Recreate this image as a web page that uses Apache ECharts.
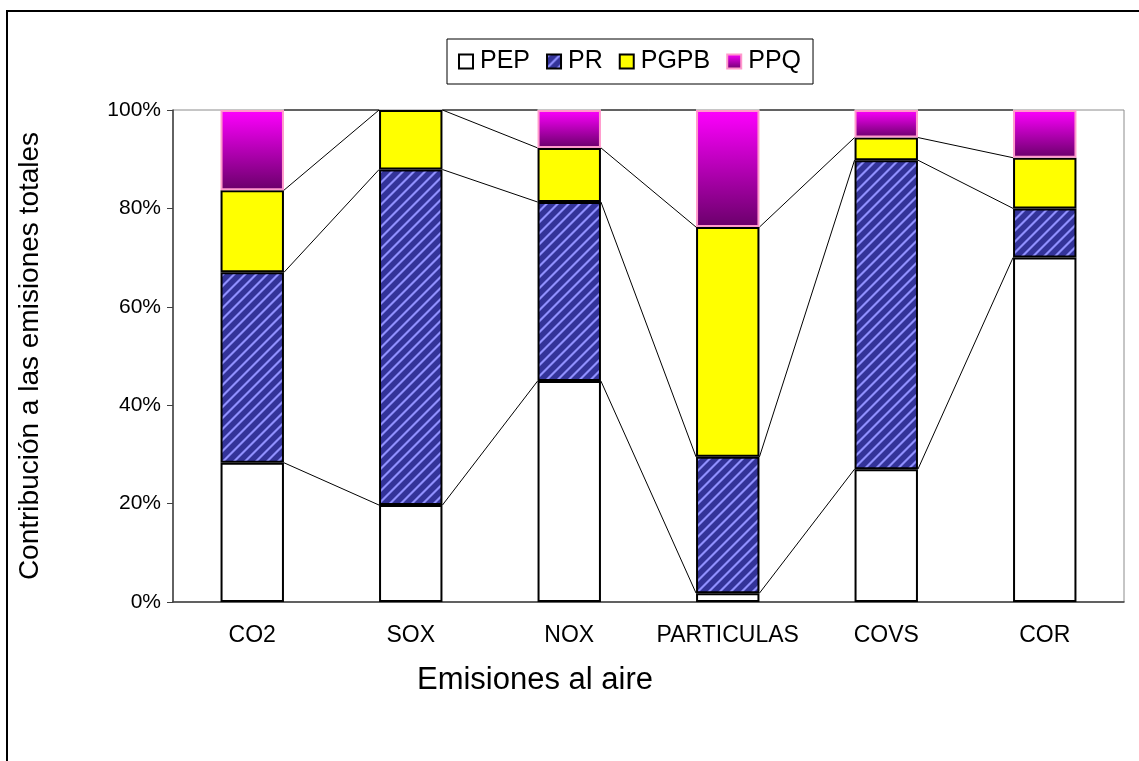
<!DOCTYPE html>
<html>
<head>
<meta charset="utf-8">
<title>Emisiones al aire</title>
<script src="https://cdn.jsdelivr.net/npm/echarts@6/dist/echarts.min.js"></script>
<style>
  html, body { margin: 0; padding: 0; background: #fff; }
  #chart { width: 1139px; height: 761px; }
</style>
</head>
<body>
<div id="chart"></div>
<script>
  // datos (% de contribucion)
  var categorias = ['CO2', 'SOX', 'NOX', 'PARTICULAS', 'COVS', 'COR'];
  var pep  = [28.3, 19.7, 44.9, 1.8, 27.0, 70.0];
  var pr   = [38.7, 68.2, 36.4, 27.7, 62.8, 10.0];
  var pgpb = [16.7, 12.1, 11.0, 46.7, 4.6, 10.3];
  var ppq  = [16.3, 0, 7.7, 23.8, 5.6, 9.7];
  var yTicks = [0, 20, 40, 60, 80, 100];

  var FONT = '"Liberation Sans", Arial, sans-serif';

  // patron rayado para PR
  function stripes() {
    var c = document.createElement('canvas');
    var p = 11;
    c.width = p; c.height = p;
    var ctx = c.getContext('2d');
    var img = ctx.createImageData(p, p);
    for (var y = 0; y < p; y++) {
      for (var x = 0; x < p; x++) {
        var d = (x + y) % p;
        var t = (d == 1 || d == 2) ? 1 : (d == 0 || d == 3 ? 0.5 : 0);
        var i = (y * p + x) * 4;
        img.data[i]   = Math.round(0x33 + (0x90 - 0x33) * t);
        img.data[i+1] = Math.round(0x33 + (0x90 - 0x33) * t);
        img.data[i+2] = Math.round(0x99 + (0xff - 0x99) * t);
        img.data[i+3] = 255;
      }
    }
    ctx.putImageData(img, 0, 0);
    return c;
  }

  // acumulados para las lineas de series
  var cum = [];
  for (var i = 0; i < categorias.length; i++) {
    var a = pep[i], b = a + pr[i], c = b + pgpb[i], d = c + ppq[i];
    cum.push([a, b, c, d]);
  }
  var lineData = [];
  for (var i = 0; i < categorias.length - 1; i++) {
    lineData.push([i].concat(cum[i], cum[i + 1]));
  }

  var chart = echarts.init(document.getElementById('chart'));
  var option = {
    animation: false,
    backgroundColor: '#fff',
    textStyle: { fontFamily: FONT },
    graphic: [
      { type: 'rect', shape: { x: 7, y: 11, width: 1300, height: 900 },
        style: { fill: 'none', stroke: '#000', lineWidth: 2 }, z: 100 },
      { type: 'text', x: 30, y: 356, rotation: Math.PI / 2,
        style: { text: 'Contribución a las emisiones totales', font: '28px ' + FONT,
                 fill: '#000', textAlign: 'center', textVerticalAlign: 'middle' } },
      { type: 'text', x: 535, y: 680,
        style: { text: 'Emisiones al aire', font: '31px ' + FONT,
                 fill: '#000', textAlign: 'center', textVerticalAlign: 'middle' } }
    ],
    legend: {
      data: ['PEP', 'PR', 'PGPB', 'PPQ'],
      left: 447,
      top: 39,
      padding: [10, 12, 10, 11],
      borderColor: '#000',
      borderWidth: 1,
      itemWidth: 14,
      itemHeight: 14,
      itemGap: 16,
      icon: 'rect',
      textStyle: { fontSize: 25, color: '#000', fontFamily: FONT, padding: [0, 0, 0, 2] }
    },
    grid: {
      left: 173,
      right: 15,
      top: 110,
      bottom: 159,
      show: true,
      borderColor: '#8c8c8c',
      borderWidth: 1
    },
    xAxis: {
      type: 'category',
      data: categorias,
      axisLine: { lineStyle: { color: '#404040', width: 1.5 } },
      axisTick: { length: 7, lineStyle: { color: '#404040' } },
      axisLabel: { interval: 0, fontSize: 23, color: '#000', margin: 22, fontFamily: FONT }
    },
    yAxis: {
      type: 'value',
      min: yTicks[0],
      max: yTicks[yTicks.length - 1],
      interval: yTicks[1] - yTicks[0],
      axisLine: { show: true, lineStyle: { color: '#404040', width: 1.5 } },
      axisTick: { show: true, length: 6, lineStyle: { color: '#404040' } },
      splitLine: { show: false },
      axisLabel: { fontSize: 21, color: '#000', margin: 12, formatter: '{value}%', fontFamily: FONT }
    },
    series: [
      {
        name: 'series-lines',
        type: 'custom',
        data: lineData,
        encode: { x: 0, y: 1 },
        z: 1,
        silent: true,
        renderItem: function (params, api) {
          var idx = api.value(0);
          var half = api.size([1, 0])[0] * 0.2;
          var kids = [];
          for (var k = 0; k < 4; k++) {
            var p0 = api.coord([idx, api.value(1 + k)]);
            var p1 = api.coord([idx + 1, api.value(5 + k)]);
            kids.push({
              type: 'line',
              shape: { x1: p0[0] + half, y1: p0[1], x2: p1[0] - half, y2: p1[1] },
              style: { stroke: '#000', lineWidth: 1 }
            });
          }
          return { type: 'group', children: kids };
        }
      },
      {
        name: 'PEP', type: 'bar', stack: 'total', barWidth: '40%', z: 2,
        itemStyle: { color: '#fff', borderColor: '#000', borderWidth: 2 },
        data: pep
      },
      {
        name: 'PR', type: 'bar', stack: 'total', barWidth: '40%', z: 2,
        itemStyle: { color: { image: stripes(), repeat: 'repeat' }, borderColor: '#000', borderWidth: 2 },
        data: pr
      },
      {
        name: 'PGPB', type: 'bar', stack: 'total', barWidth: '40%', z: 2,
        itemStyle: { color: '#ffff00', borderColor: '#000', borderWidth: 2 },
        data: pgpb
      },
      {
        name: 'PPQ', type: 'bar', stack: 'total', barWidth: '40%', z: 2,
        itemStyle: {
          color: new echarts.graphic.LinearGradient(0, 0, 0, 1, [
            { offset: 0, color: '#ff00ff' },
            { offset: 1, color: '#6a006a' }
          ]),
          borderColor: '#ff99cc',
          borderWidth: 2
        },
        data: ppq.map(function (v) { return v === 0 ? '-' : v; })
      }
    ]
  };
  chart.setOption(option);
</script>
</body>
</html>
